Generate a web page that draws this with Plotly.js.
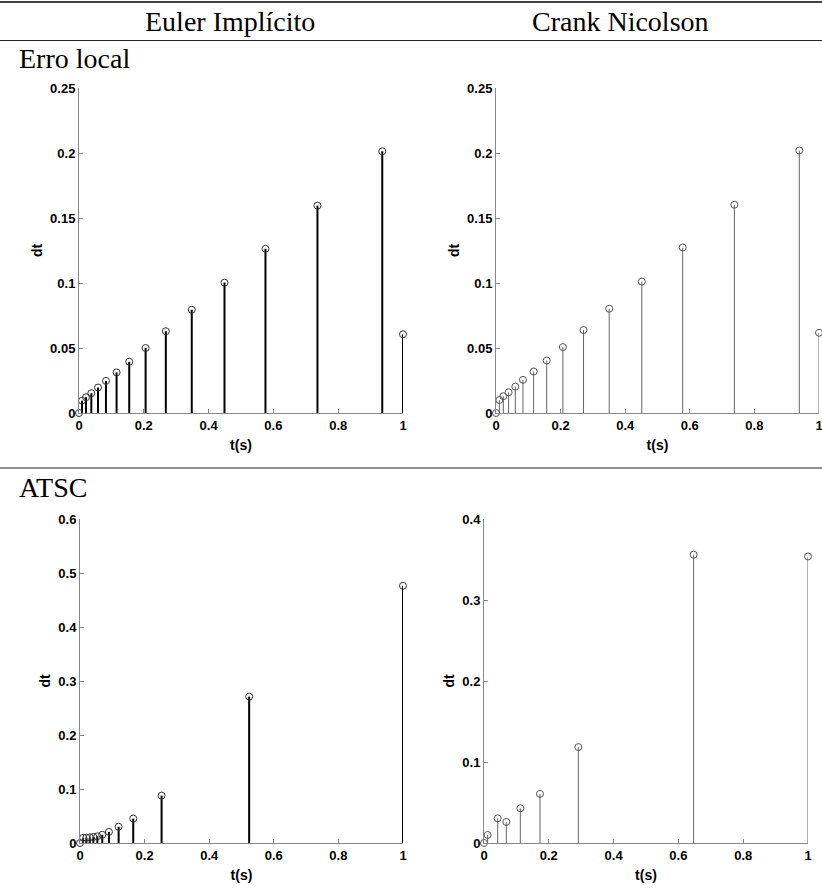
<!DOCTYPE html>
<html>
<head>
<meta charset="utf-8">
<script src="https://cdn.plot.ly/plotly-3.0.1.min.js"></script>
<style>html,body{margin:0;padding:0;background:#fff;}#chart{width:822px;height:893px;}</style>
</head>
<body>
<div id="chart"></div>
<script>
// Column / row headers
const colHeaders = ["Euler Implícito", "Crank Nicolson"];
const rowHeaders = ["Erro local", "ATSC"];
const xTitle = "t(s)";
const yTitle = "dt";

// Erro local – Euler Implícito
const tEulerLocal  = [0, 0.0093, 0.0216, 0.038, 0.0586, 0.0832, 0.116, 0.155, 0.2056, 0.268, 0.348, 0.449, 0.5755, 0.736, 0.936, 1];
const dtEulerLocal = [0, 0.0095, 0.0121, 0.0152, 0.0196, 0.0247, 0.0312, 0.0394, 0.0500, 0.0629, 0.0794, 0.1003, 0.1263, 0.1595, 0.2013, 0.0606];

// Erro local – Crank Nicolson
const tCNLocal  = [0, 0.0103, 0.0227, 0.039, 0.0598, 0.0835, 0.1165, 0.157, 0.207, 0.271, 0.3505, 0.4515, 0.578, 0.738, 0.939, 1];
const dtCNLocal = [0, 0.0100, 0.0129, 0.0159, 0.0203, 0.0255, 0.0319, 0.0404, 0.0507, 0.0638, 0.0802, 0.1011, 0.1273, 0.1602, 0.2019, 0.0617];

// ATSC – Euler Implícito
const tEulerATSC  = [0, 0.0097, 0.0197, 0.0302, 0.0413, 0.0537, 0.0689, 0.0895, 0.1196, 0.1648, 0.2526, 0.5237, 1];
const dtEulerATSC = [0, 0.0097, 0.0100, 0.0105, 0.0111, 0.0124, 0.0152, 0.0206, 0.0301, 0.0452, 0.0878, 0.2711, 0.4763];

// ATSC – Crank Nicolson
const tCNATSC  = [0, 0.0113, 0.0422, 0.0689, 0.1121, 0.1728, 0.2912, 0.647, 1];
const dtCNATSC = [0, 0.0099, 0.0305, 0.0260, 0.0429, 0.0606, 0.1184, 0.3559, 0.3538];

const W = 822, H = 893;
function px(x){ return x / W; }
function py(y){ return 1 - y / H; }

function stem(t, v, xa, ya, lineColor, lineWidth, markColor){
  const sx = [], sy = [];
  for (let i = 0; i < t.length; i++){ sx.push(t[i], t[i], null); sy.push(0, v[i], null); }
  return [
    {type:'scatter', mode:'lines', x:sx, y:sy, xaxis:xa, yaxis:ya,
     line:{color:lineColor, width:lineWidth}, hoverinfo:'skip', showlegend:false, cliponaxis:false},
    {type:'scatter', mode:'markers', x:t, y:v, xaxis:xa, yaxis:ya,
     marker:{symbol:'circle-open', size:7, color:markColor, line:{width:1, color:markColor}},
     showlegend:false, cliponaxis:false}
  ];
}

const data = [].concat(
  stem(tEulerLocal, dtEulerLocal, 'x',  'y',  '#000', 2, '#333'),
  stem(tCNLocal,    dtCNLocal,    'x2', 'y2', '#666', 1, '#555'),
  stem(tEulerATSC,  dtEulerATSC,  'x3', 'y3', '#000', 2, '#333'),
  stem(tCNATSC,     dtCNATSC,     'x4', 'y4', '#666', 1, '#555')
);

const tickFont = {family:'Liberation Sans, Arial, sans-serif', size:13, color:'#000', weight:'bold'};
const titleFont = {family:'Liberation Sans, Arial, sans-serif', size:14, color:'#000', weight:'bold'};

function xax(d, anchor){
  return {domain:d, anchor:anchor, range:[0,1], dtick:0.2, tick0:0, showgrid:false, zeroline:false,
    showline:true, linecolor:'#888', linewidth:1, ticks:'inside', ticklen:4, tickcolor:'#888',
    tickfont:tickFont, ticklabeloverflow:'allow',
    title:{text:xTitle, font:titleFont, standoff:8}, automargin:false, fixedrange:true};
}
function yax(d, anchor, maxv){
  return {domain:d, anchor:anchor, range:[0,maxv], dtick:maxv > 0.3 ? 0.1 : 0.05, tick0:0, showgrid:false, zeroline:false,
    showline:true, linecolor:'#888', linewidth:1, ticks:'inside', ticklen:4, tickcolor:'#888',
    tickfont:tickFont, title:{text:yTitle, font:titleFont, standoff:4}, automargin:false, fixedrange:true};
}

const serif = {family:'Liberation Serif, Times New Roman, serif', size:28, color:'#000'};

const layout = {
  width:W, height:H, margin:{l:0, r:0, t:0, b:0},
  paper_bgcolor:'#fff', plot_bgcolor:'rgba(0,0,0,0)', showlegend:false,
  xaxis:  xax([px(79),  px(403)], 'y'),
  yaxis:  yax([py(413), py(88)],  'x', 0.25),
  xaxis2: xax([px(496), px(819)], 'y2'),
  yaxis2: yax([py(413), py(88)],  'x2', 0.25),
  xaxis3: xax([px(80),  px(403)], 'y3'),
  yaxis3: yax([py(843), py(519)], 'x3', 0.6),
  xaxis4: xax([px(484), px(808)], 'y4'),
  yaxis4: yax([py(843), py(519)], 'x4', 0.4),
  shapes:[
    {type:'line', xref:'paper', yref:'paper', x0:0, x1:1, y0:py(2), y1:py(2), line:{color:'#444', width:2}},
    {type:'line', xref:'paper', yref:'paper', x0:0, x1:1, y0:py(40.5), y1:py(40.5), line:{color:'#222', width:1}},
    {type:'line', xref:'paper', yref:'paper', x0:0, x1:1, y0:py(468), y1:py(468), line:{color:'#222', width:1}}
  ],
  annotations:[
    {text:colHeaders[0], xref:'paper', yref:'paper', x:px(230), y:py(21), xanchor:'center', yanchor:'middle', showarrow:false, font:serif},
    {text:colHeaders[1], xref:'paper', yref:'paper', x:px(620), y:py(21), xanchor:'center', yanchor:'middle', showarrow:false, font:serif},
    {text:rowHeaders[0], xref:'paper', yref:'paper', x:px(17), y:py(59), xanchor:'left', yanchor:'middle', showarrow:false, font:serif},
    {text:rowHeaders[1], xref:'paper', yref:'paper', x:px(17), y:py(487), xanchor:'left', yanchor:'middle', showarrow:false, font:serif}
  ]
};

Plotly.newPlot('chart', data, layout, {displayModeBar:false, staticPlot:true});
</script>
</body>
</html>
